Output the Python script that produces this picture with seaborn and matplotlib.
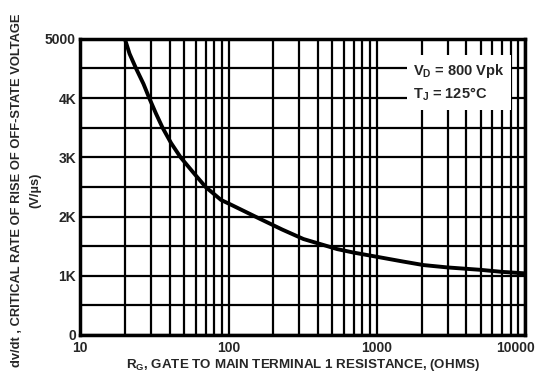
import matplotlib
matplotlib.use("Agg")
import matplotlib.pyplot as plt
import matplotlib.transforms as mtransforms
import seaborn as sns
import pandas as pd
from matplotlib.ticker import FixedLocator, NullFormatter

# Data
resistance_ohms = [20, 21.5, 23.8, 26.7, 29.2, 32.4, 35.9, 41, 47.5, 58, 70, 89, 100,
                   160, 230, 320, 540, 700, 1000, 1500, 2065, 3000, 4980, 7000, 10000]
dvdt_v_per_us = [5000, 4750, 4500, 4240, 4000, 3740, 3500, 3240, 3000, 2740, 2500, 2280, 2220,
                 1970, 1780, 1620, 1450, 1390, 1320, 1240, 1180, 1140, 1100, 1065, 1040]

y_ticks = [0, 1000, 2000, 3000, 4000, 5000]
y_tick_labels = ["0", "1K", "2K", "3K", "4K", "5000"]
x_ticks = [10, 100, 1000, 10000]
x_tick_labels = ["10", "100", "1000", "10000"]

sns.set_style("white")
plt.rcParams['font.family'] = ['Liberation Sans', 'DejaVu Sans']
plt.rcParams['font.weight'] = 'bold'
plt.rcParams['mathtext.fontset'] = 'custom'
plt.rcParams['mathtext.rm'] = 'Liberation Sans:bold'
plt.rcParams['mathtext.it'] = 'Liberation Sans:bold'
plt.rcParams['mathtext.bf'] = 'Liberation Sans:bold'

df = pd.DataFrame({"R": resistance_ohms, "V": dvdt_v_per_us})

fig = plt.figure(figsize=(5.42, 3.85), dpi=100)
ax = fig.add_axes([0.148, 0.130, 0.821, 0.769])

sns.lineplot(data=df, x="R", y="V", ax=ax, color="black", linewidth=2.8, zorder=5)

ax.set_xscale("log")
ax.set_xlim(10, 10000)
ax.set_ylim(0, 5000)

minor_x = [m * 10 ** e for e in range(1, 4) for m in range(2, 10)]
ax.xaxis.set_minor_locator(FixedLocator(minor_x))
ax.xaxis.set_minor_formatter(NullFormatter())
ax.set_xticks(x_ticks)
ax.set_xticklabels(x_tick_labels)
ax.set_yticks(y_ticks)
ax.set_yticklabels(y_tick_labels)
ax.yaxis.set_minor_locator(FixedLocator([500, 1500, 2500, 3500, 4500]))

ax.grid(True, which="both", axis="both", color="black", linewidth=1.6)
ax.set_axisbelow(True)

for s in ax.spines.values():
    s.set_color("black")
    s.set_linewidth(2.5)

ax.tick_params(axis="both", which="both", length=0, labelsize=10)
ax.tick_params(axis="x", pad=4)
ax.tick_params(axis="y", pad=3)

last = ax.get_xticklabels()[-1]
last.set_transform(last.get_transform() + mtransforms.ScaledTranslation(-10 / 100, 0, fig.dpi_scale_trans))

ax.set_xlabel("R$_\\mathregular{G}$, GATE TO MAIN TERMINAL 1 RESISTANCE, (OHMS)",
              fontsize=9.6, fontweight="bold", labelpad=2)
ax.set_ylabel("dv/dt , CRITICAL RATE OF RISE OF OFF-STATE VOLTAGE\n(V/\u00b5s)",
              fontsize=9.3, fontweight="bold", linespacing=1.7, multialignment="center")
ax.yaxis.set_label_coords(-0.088, 0.49)

ax.text(0.748, 0.852, "V$_\\mathregular{D}$ = 800 Vpk\nT$_\\mathregular{J}$ = 125\u00b0C",
        transform=ax.transAxes, fontsize=10.5, fontweight="bold", va="center", ha="left",
        linespacing=1.45, zorder=6,
        bbox=dict(boxstyle="square,pad=0.45", facecolor="white", edgecolor="none"))

fig.savefig("out.png", dpi=100)
